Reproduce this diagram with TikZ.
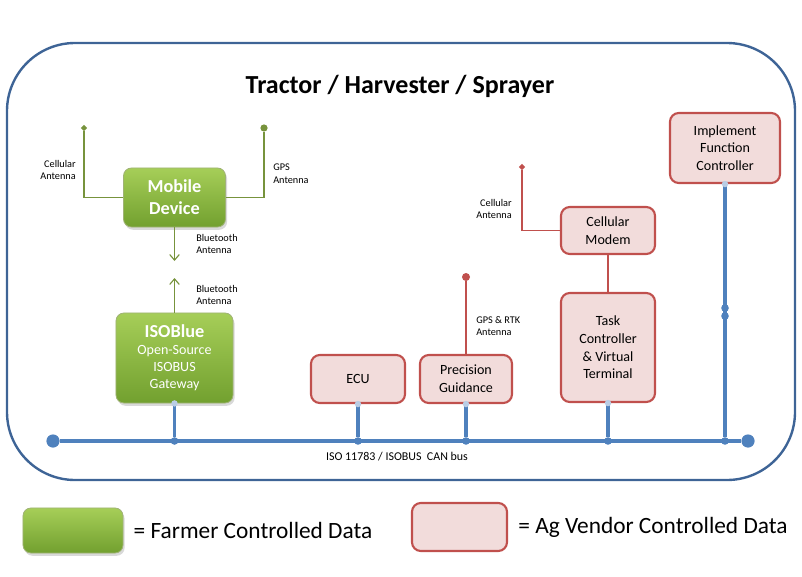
\documentclass[tikz,border=0pt]{standalone}
\usepackage{fontspec}
\setmainfont{Carlito}
\usetikzlibrary{arrows.meta,positioning,shapes.geometric,shadows}
\definecolor{hullblue}{HTML}{3E6496}
\definecolor{busblue}{HTML}{4F81BD}
\definecolor{vendred}{HTML}{C0504D}
\definecolor{vendpink}{HTML}{F2DCDB}
\definecolor{farmtop}{HTML}{A6CE58}
\definecolor{farmbot}{HTML}{72A02F}
\definecolor{farmline}{HTML}{77933C}

\begin{document}
\begin{tikzpicture}[
  x=0.025cm, y=-0.025cm,
  gbox/.style={draw=farmline!70!white, line width=0.6pt, rounded corners=0.2cm,
               top color=farmtop, bottom color=farmbot, text=white,
               drop shadow={opacity=0.3, shadow xshift=0.04cm, shadow yshift=-0.07cm},
               align=center, inner sep=0pt},
  rbox/.style={draw=vendred, line width=1.5pt, rounded corners=0.22cm, fill=vendpink,
               align=center, inner sep=0pt, font=\fontsize{10}{12.5}\selectfont},
  lbl/.style={font=\fontsize{7.3}{9.2}\selectfont, inner sep=0pt},
  hull/.style={draw=hullblue, line width=1.7pt, rounded corners=1.7cm},
  bus/.style={draw=busblue, line width=3.1pt},
  tap/.style={draw=busblue, line width=2.4pt},
  gw/.style={draw=farmline, line width=0.8pt},
  rw/.style={draw=vendred, line width=0.8pt},
  jd/.style={circle, fill=busblue, inner sep=0pt, minimum size=0.19cm},
  ed/.style={circle, fill=busblue, inner sep=0pt, minimum size=0.33cm},
  pd/.style={circle, fill=busblue!40!white, inner sep=0pt, minimum size=0.16cm},
  gtip/.style={fill=farmline, inner sep=0pt},
  rtip/.style={fill=vendred, inner sep=0pt}
]
  \useasboundingbox (0,0) rectangle (802,577);
  % outer frame and title
  \draw[hull] (7,43) rectangle (795,480);
  \node[font=\fontsize{18.5}{22}\selectfont\bfseries] (title) at (400,86) {Tractor / Harvester / Sprayer};

  % farmer side
  \node[gbox, minimum width=2.55cm, minimum height=1.475cm,
        font=\fontsize{13}{15.6}\selectfont\bfseries] (md) at (174.5,197.5) {Mobile\\Device};
  \node[gbox, minimum width=2.925cm, minimum height=2.25cm,
        font=\fontsize{10}{12}\selectfont] (isob) at (174.5,358)
        {{\fontsize{13}{15}\selectfont\bfseries ISOBlue}\\Open-Source\\ISOBUS\\Gateway};
  \node[gtip, diamond, minimum size=0.16cm] (mdcell) at (84,128) {};
  \node[gtip, circle, minimum size=0.18cm] (mdgps) at (264,128) {};
  \coordinate (bta) at (174.5,261);
  \coordinate (btb) at (174.5,278);
  \draw[gw] (md.west) -| (mdcell);
  \draw[gw] (md.east) -| (mdgps);
  \draw[gw, -{Straight Barb[length=1.4mm, width=2.4mm]}] (md) -- (bta);
  \draw[gw, -{Straight Barb[length=1.4mm, width=2.4mm]}] (isob) -- (btb);
  \node[lbl, anchor=east, align=right] (mdcelll) at (76,170) {Cellular\\Antenna};
  \node[lbl, anchor=west, align=left] (mdgpsl) at (273,174) {GPS\\Antenna};
  \node[lbl, anchor=west, align=left] (btal) at (196,244) {Bluetooth\\Antenna};
  \node[lbl, anchor=west, align=left] (btbl) at (196,295) {Bluetooth\\Antenna};

  % vendor side
  \node[rbox, minimum width=2.35cm, minimum height=1.2cm] (ecu) at (358,379) {ECU};
  \node[rbox, minimum width=2.3cm, minimum height=1.2cm] (pg) at (466,379) {Precision\\Guidance};
  \node[rbox, minimum width=2.35cm, minimum height=1.175cm] (cm) at (608,230.5) {Cellular\\Modem};
  \node[rbox, minimum width=2.35cm, minimum height=2.725cm] (tcvt) at (608,347.5) {Task\\Controller\\\& Virtual\\Terminal};
  \node[rbox, minimum width=2.75cm, minimum height=1.75cm] (ifc) at (725,148) {Implement\\Function\\Controller};
  \node[rtip, circle, minimum size=0.2cm] (pgant) at (466,277) {};
  \node[rtip, diamond, minimum size=0.16cm] (cmant) at (522,167) {};
  \draw[rw] (pg) -- (pgant);
  \draw[rw] (cm.west) -| (cmant);
  \draw[draw=vendred, line width=1.6pt] (cm) -- (tcvt);
  \node[lbl, anchor=west, align=left] (pgantl) at (476,326) {GPS \& RTK\\Antenna};
  \node[lbl, anchor=east, align=right] (cmantl) at (512,209) {Cellular\\Antenna};

  % CAN bus
  \node[ed] (busl) at (53,441) {};
  \node[ed] (busr) at (748,441) {};
  \node[jd] (j1) at (174.5,441) {};
  \node[jd] (j2) at (358,441) {};
  \node[jd] (j3) at (466,441) {};
  \node[jd] (j4) at (608,441) {};
  \node[jd] (j5) at (725,441) {};
  \draw[bus] (busl) -- (busr);
  \draw[tap] (isob) -- (j1);
  \draw[tap] (ecu) -- (j2);
  \draw[tap] (pg) -- (j3);
  \draw[tap] (tcvt) -- (j4);
  \draw[tap] (ifc) -- (j5);
  \node[jd] (k1) at (725,308) {};
  \node[jd] (k2) at (725,316) {};
  \node[pd] (isobp) at (isob.south) {};
  \node[pd] (ecup) at (ecu.south) {};
  \node[pd] (pgp) at (pg.south) {};
  \node[pd] (tcvtp) at (tcvt.south) {};
  \node[pd] (ifcp) at (ifc.south) {};
  \node[font=\fontsize{8.5}{10}\selectfont] (buslbl) at (397,457) {ISO 11783 / ISOBUS\ \ CAN bus};

  % legend
  \node[gbox, minimum width=2.5cm, minimum height=1.125cm] (lgf) at (73,530.5) {};
  \node[font=\fontsize{16.6}{19}\selectfont, inner sep=0pt, right=0.25cm of lgf] (lgft) {= Farmer Controlled Data};
  \node[rbox, minimum width=2.375cm, minimum height=1.2cm] (lgv) at (459.5,527) {};
  \node[font=\fontsize{16.6}{19}\selectfont, inner sep=0pt, right=0.25cm of lgv] (lgvt) {= Ag Vendor Controlled Data};
\end{tikzpicture}
\end{document}
